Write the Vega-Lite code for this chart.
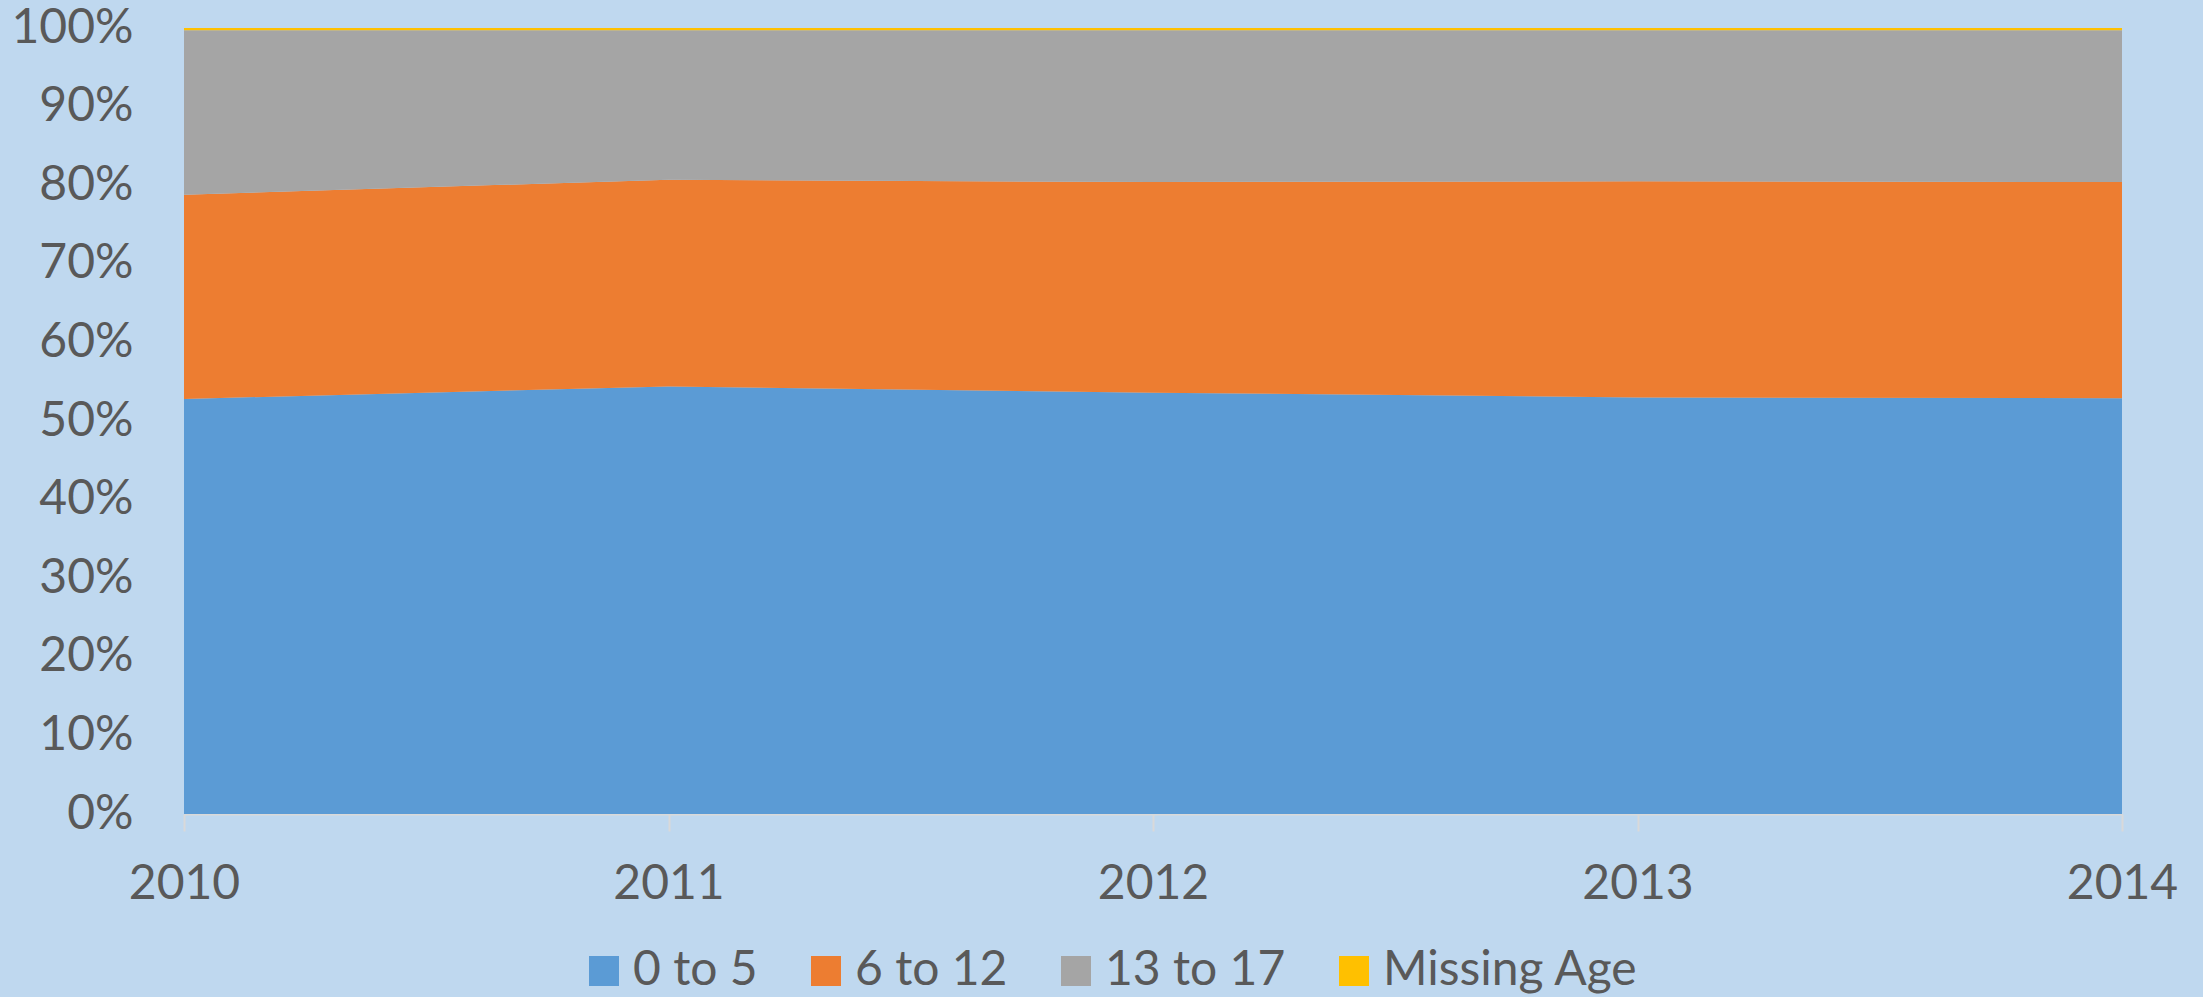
{
  "$schema": "https://vega.github.io/schema/vega-lite/v6.json",
  "autosize": "none",
  "width": 1938,
  "height": 786,
  "padding": {"left": 184, "top": 28, "right": 81, "bottom": 183},
  "background": "#BFD8EF",
  "config": {
    "view": {"stroke": null},
    "font": "Lato",
    "axis": {"labelColor": "#595959", "labelFontSize": 48, "title": null, "grid": false}
  },
  "data": {
    "values": [
      {"year": 2010, "group": "0 to 5", "share": 0.528},
      {"year": 2010, "group": "6 to 12", "share": 0.260},
      {"year": 2010, "group": "13 to 17", "share": 0.209},
      {"year": 2010, "group": "Missing Age", "share": 0.003},
      {"year": 2011, "group": "0 to 5", "share": 0.544},
      {"year": 2011, "group": "6 to 12", "share": 0.263},
      {"year": 2011, "group": "13 to 17", "share": 0.190},
      {"year": 2011, "group": "Missing Age", "share": 0.003},
      {"year": 2012, "group": "0 to 5", "share": 0.536},
      {"year": 2012, "group": "6 to 12", "share": 0.268},
      {"year": 2012, "group": "13 to 17", "share": 0.193},
      {"year": 2012, "group": "Missing Age", "share": 0.003},
      {"year": 2013, "group": "0 to 5", "share": 0.530},
      {"year": 2013, "group": "6 to 12", "share": 0.275},
      {"year": 2013, "group": "13 to 17", "share": 0.192},
      {"year": 2013, "group": "Missing Age", "share": 0.003},
      {"year": 2014, "group": "0 to 5", "share": 0.529},
      {"year": 2014, "group": "6 to 12", "share": 0.275},
      {"year": 2014, "group": "13 to 17", "share": 0.193},
      {"year": 2014, "group": "Missing Age", "share": 0.003}
    ]
  },
  "transform": [
    {"calculate": "indexof(['0 to 5', '6 to 12', '13 to 17', 'Missing Age'], datum.group)", "as": "stackOrder"}
  ],
  "mark": {"type": "area", "line": false},
  "encoding": {
    "x": {
      "field": "year", "type": "quantitative",
      "scale": {"domain": [2010, 2014], "nice": false, "zero": false},
      "axis": {"values": [2010, 2011, 2012, 2013, 2014], "format": "d", "tickSize": 17, "tickColor": "#D9D9D9", "tickWidth": 2, "domainColor": "#D9D9D9", "domainWidth": 2, "labelPadding": 29, "labelFlush": false}
    },
    "y": {
      "field": "share", "type": "quantitative", "stack": "zero",
      "scale": {"domain": [0, 1], "nice": false},
      "axis": {"values": [0, 0.1, 0.2, 0.3, 0.4, 0.5, 0.6, 0.7, 0.8, 0.9, 1], "format": ".0%", "ticks": false, "domain": false, "labelPadding": 51}
    },
    "order": {"field": "stackOrder", "type": "quantitative", "sort": "ascending"},
    "color": {
      "field": "group", "type": "nominal",
      "sort": ["0 to 5", "6 to 12", "13 to 17", "Missing Age"],
      "scale": {"domain": ["0 to 5", "6 to 12", "13 to 17", "Missing Age"], "range": ["#5B9BD5", "#ED7D31", "#A5A5A5", "#FFC000"]},
      "legend": {"title": null, "orient": "none", "legendX": 396, "legendY": 919, "padding": 0, "direction": "horizontal", "symbolType": "square", "symbolSize": 900, "symbolStrokeWidth": 0, "labelFontSize": 48, "labelColor": "#595959", "labelOffset": 5, "labelLimit": 400, "columnPadding": 44}
    }
  }
}
